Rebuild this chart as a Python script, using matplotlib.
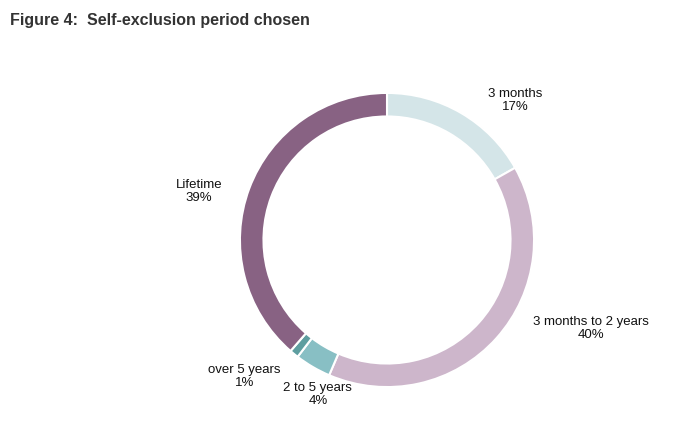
import matplotlib
matplotlib.use('Agg')
import matplotlib.pyplot as plt

# Data
categories = ['3 months', '3 months to 2 years', '2 to 5 years', 'over 5 years', 'Lifetime']
shares = [17, 40, 4, 1, 39]
colors = ['#d4e5e8', '#cdb6cb', '#88bfc4', '#5e9ea0', '#886283']

plt.rcParams['font.family'] = ['Liberation Sans', 'DejaVu Sans']

fig = plt.figure(figsize=(6.91, 4.41), dpi=100)
fig.text(10 / 691, 1 - 20 / 441, 'Figure 4:  Self-exclusion period chosen',
         fontsize=11.5, fontweight='bold', color='#333333', va='center')

# donut axes centred at ~(387, 240) px, radius ~150 px
ax = fig.add_axes([(387 - 150) / 691, (441 - 240 - 150) / 441, 300 / 691, 300 / 441])
ax.pie(shares, colors=colors, startangle=90, counterclock=False,
       radius=1.0, wedgeprops=dict(width=0.16, edgecolor='white', linewidth=1.5))
ax.set_xlim(-1.02, 1.02)
ax.set_ylim(-1.02, 1.02)
ax.set_aspect('equal')
ax.axis('off')

label_pos = [(0.87, 0.95), (1.39, -0.60), (-0.47, -1.05), (-0.97, -0.93), (-1.28, 0.33)]
for name, val, (x, y) in zip(categories, shares, label_pos):
    ax.text(x, y, f'{name}\n{val}%', ha='center', va='center', fontsize=9.5,
            color='#111111', linespacing=1.15, clip_on=False)

fig.savefig('out.png', dpi=100)
